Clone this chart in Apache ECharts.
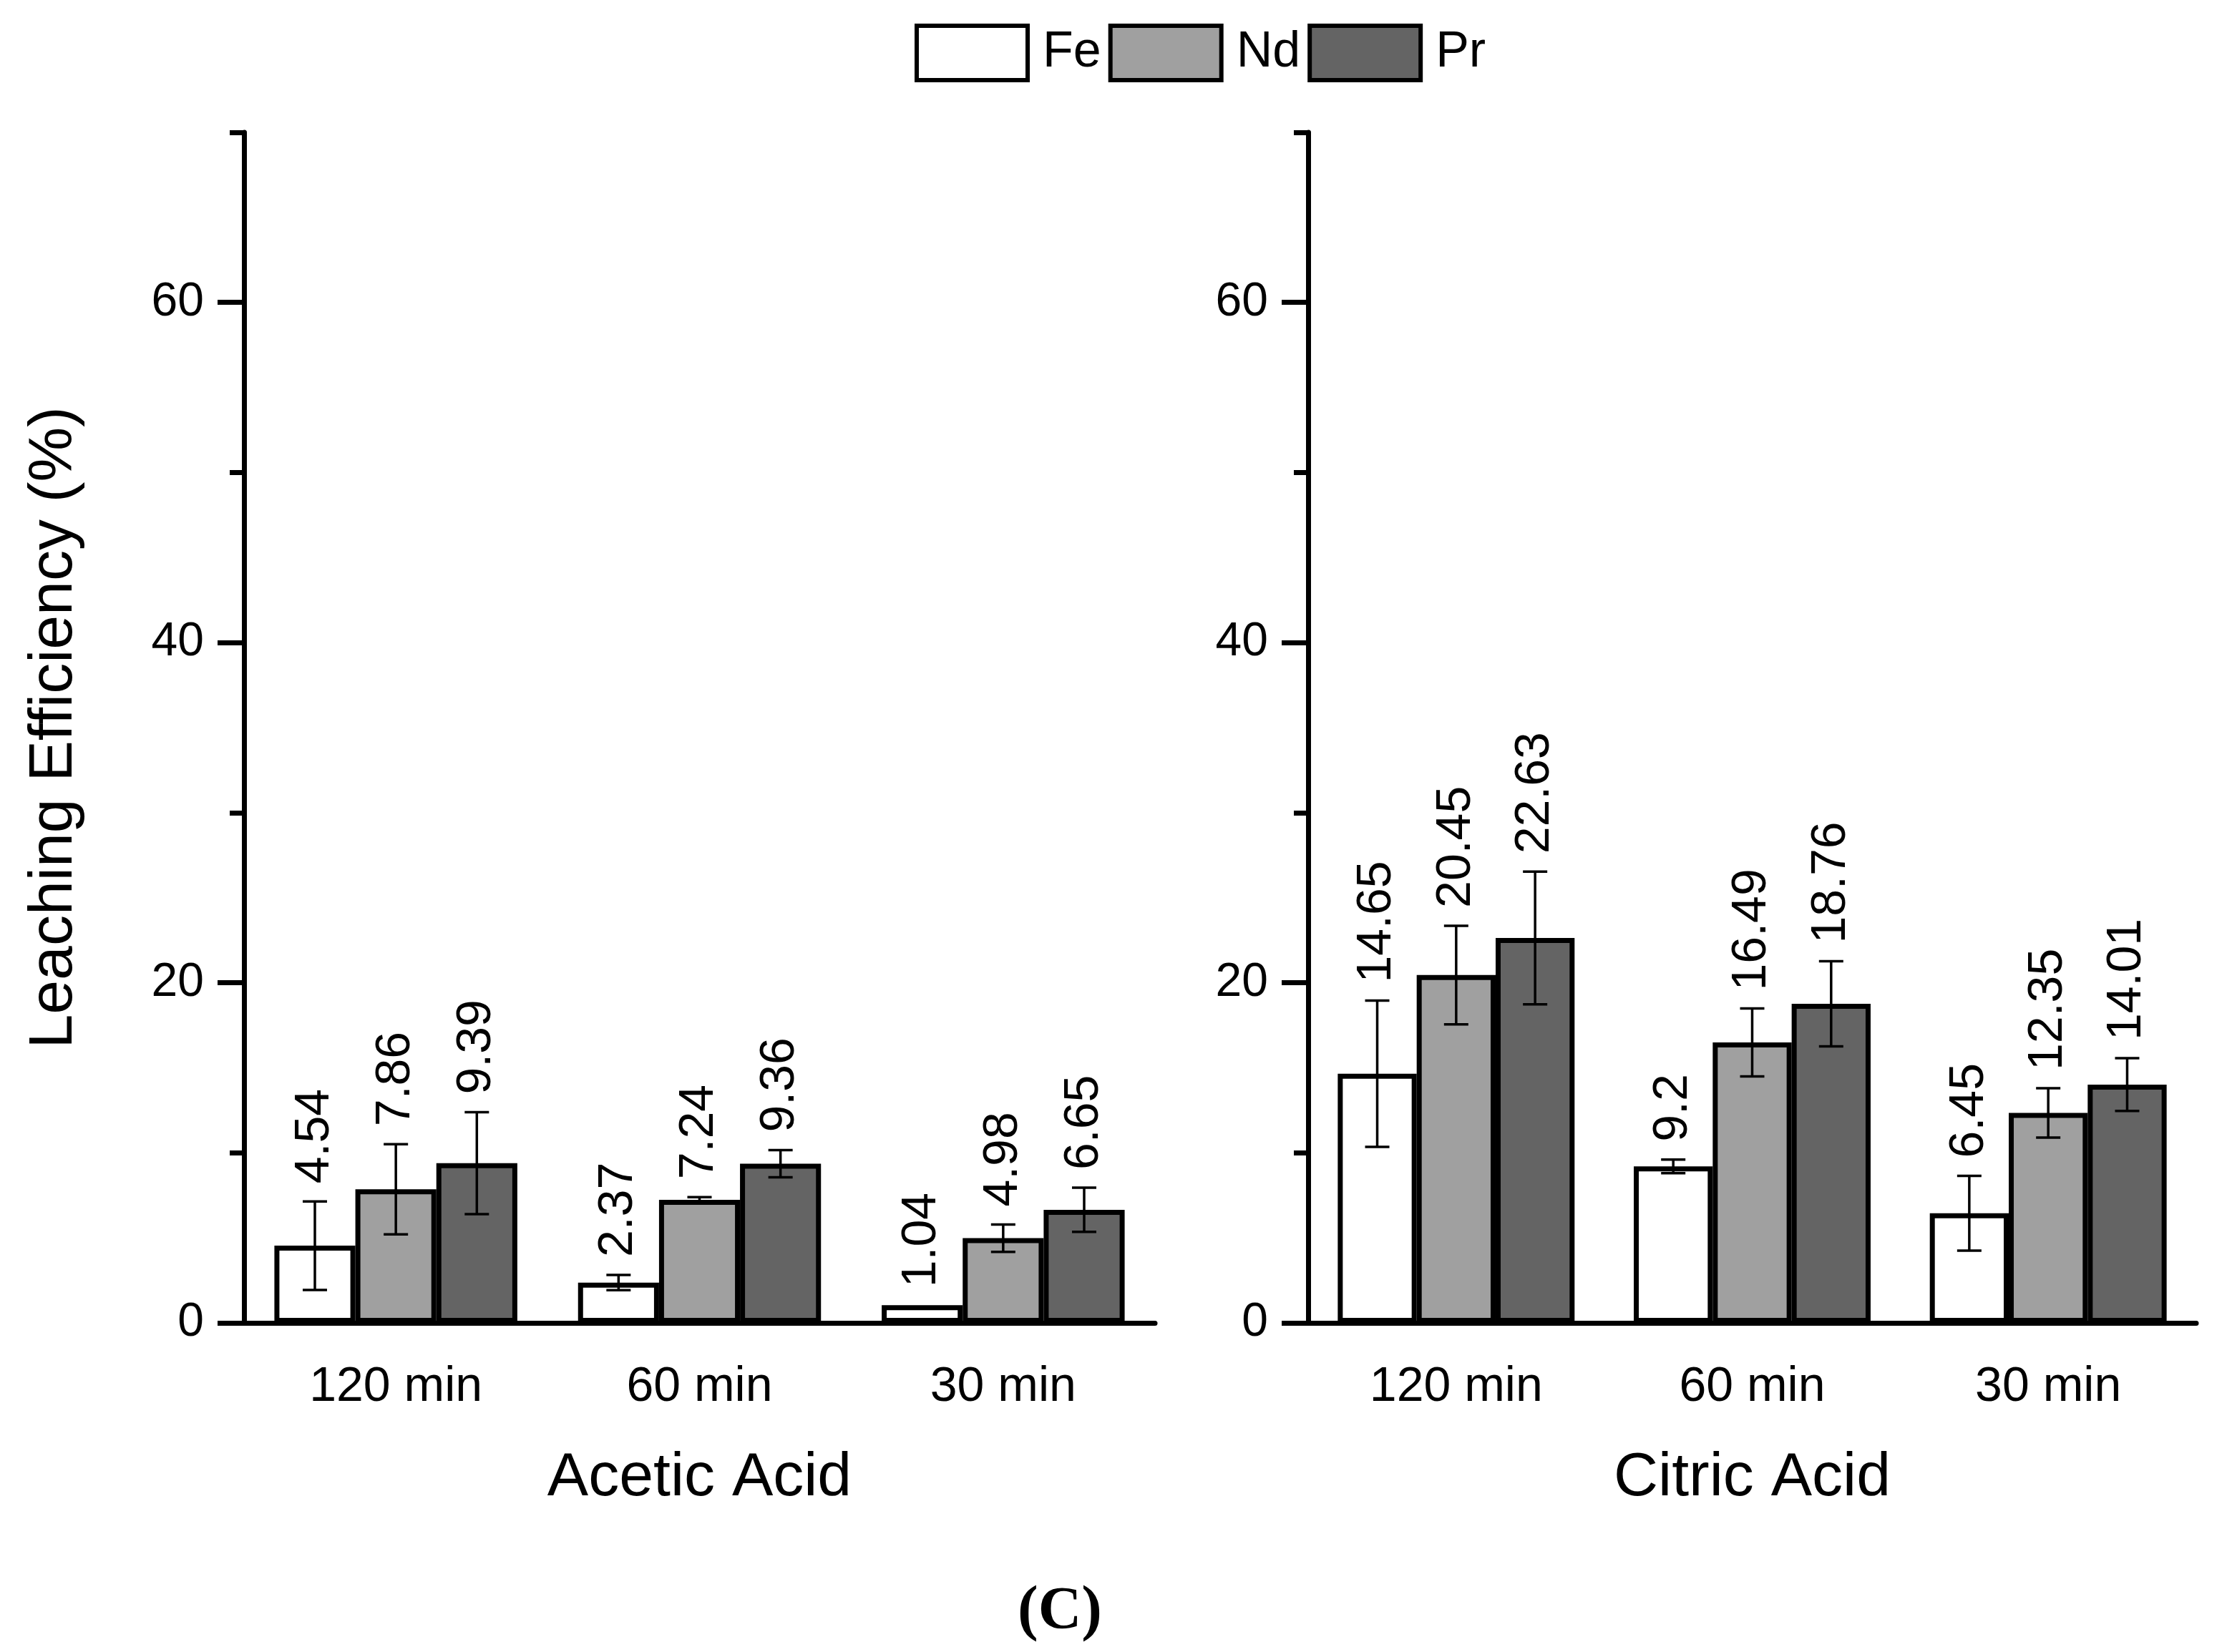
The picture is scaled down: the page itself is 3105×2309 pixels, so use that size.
<!DOCTYPE html>
<html>
<head>
<meta charset="utf-8">
<script src="https://cdn.jsdelivr.net/npm/echarts@6/dist/echarts.min.js"></script>
<style>
html,body{margin:0;padding:0;background:#fff;}
#chart{width:3105px;height:2309px;}
</style>
</head>
<body>
<div id="chart"></div>
<script>
// ---- data ----
const categories = ['120 min', '60 min', '30 min'];
const elements = ['Fe', 'Nd', 'Pr'];
const panelNames = ['Acetic Acid', 'Citric Acid'];
const yTickLabels = [0, 20, 40, 60];
const yMinorTicks = [10, 30, 50, 70];

const aceticFe = [4.54, 2.37, 1.04];
const aceticNd = [7.86, 7.24, 4.98];
const aceticPr = [9.39, 9.36, 6.65];
const aceticFeErr = [2.6, 0.45, 0];
const aceticNdErr = [2.65, 0.15, 0.8];
const aceticPrErr = [3.0, 0.8, 1.3];

const citricFe = [14.65, 9.2, 6.45];
const citricNd = [20.45, 16.49, 12.35];
const citricPr = [22.63, 18.76, 14.01];
const citricFeErr = [4.3, 0.4, 2.2];
const citricNdErr = [2.9, 2.0, 1.45];
const citricPrErr = [3.9, 2.5, 1.55];

const colors = ['#ffffff', '#a0a0a0', '#646464'];
const FONT = '"Liberation Sans", Arial, Helvetica, sans-serif';

const panels = [
  {vals: [aceticFe, aceticNd, aceticPr], errs: [aceticFeErr, aceticNdErr, aceticPrErr]},
  {vals: [citricFe, citricNd, citricPr], errs: [citricFeErr, citricNdErr, citricPrErr]}
];

const grids = [
  {left: 341, top: 185, width: 1273, height: 1664},
  {left: 1828, top: 185, width: 1241, height: 1664}
];

const xAxes = [], yAxes = [], series = [];
panels.forEach((p, g) => {
  xAxes.push({
    gridIndex: g, type: 'category', data: categories, position: 'bottom', offset: 0,
    axisLine: {lineStyle: {color: '#000', width: 7}},
    axisTick: {alignWithLabel: true, length: 30, lineStyle: {color: '#000', width: 7}},
    axisLabel: {fontSize: 68, color: '#000', margin: 56, fontFamily: FONT},
    name: panelNames[g], nameLocation: 'middle', nameGap: 174,
    nameTextStyle: {fontSize: 86, color: '#000', fontFamily: FONT}
  });
  xAxes.push({
    gridIndex: g, type: 'category', data: categories, position: 'bottom', offset: 0,
    axisLine: {show: false},
    axisTick: {alignWithLabel: false, length: 16, lineStyle: {color: '#000', width: 7}},
    axisLabel: {show: false}
  });
  yAxes.push({
    gridIndex: g, type: 'value', min: 0, max: 70, interval: 10, position: 'left', offset: 0,
    splitLine: {show: false},
    axisLine: {show: true, lineStyle: {color: '#000', width: 7}},
    axisTick: {show: true, length: 37, customValues: yTickLabels, lineStyle: {color: '#000', width: 7}},
    axisLabel: {fontSize: 66, color: '#000', margin: 56, fontFamily: FONT, customValues: yTickLabels},
    name: g === 0 ? 'Leaching Efficiency (%)' : '', nameLocation: 'middle', nameGap: 222,
    nameTextStyle: {fontSize: 86, color: '#000', fontFamily: FONT}
  });
  yAxes.push({
    gridIndex: g, type: 'value', min: 0, max: 70, interval: 10, position: 'left', offset: 0,
    splitLine: {show: false},
    axisLine: {show: false},
    axisTick: {show: true, length: 20, customValues: yMinorTicks, lineStyle: {color: '#000', width: 7}},
    axisLabel: {show: false}
  });
  elements.forEach((el, k) => {
    series.push({
      type: 'bar', name: el, xAxisIndex: g * 2, yAxisIndex: g * 2,
      data: p.vals[k], barGap: '0%', barCategoryGap: '20%',
      itemStyle: {color: colors[k], borderColor: '#000', borderWidth: 7},
      z: 2
    });
  });
  elements.forEach((el, k) => {
    const vals = p.vals[k], errs = p.errs[k];
    series.push({
      type: 'custom', name: el + ' error', xAxisIndex: g * 2, yAxisIndex: g * 2,
      z: 5, clip: false, silent: true,
      data: vals.map((v, i) => [i, v, errs[i]]),
      encode: {x: 0, y: 1},
      renderItem: function (params, api) {
        const i = api.value(0), v = api.value(1), e = api.value(2);
        const band = api.size([1, 0])[0];
        const bw = band * 0.8 / 3;
        const c = api.coord([i, v]);
        const x = c[0] + (k - 1) * bw;
        const top = api.coord([i, v + e])[1];
        const bot = api.coord([i, v - e])[1];
        const ch = [];
        const st = {stroke: '#000', lineWidth: 3.5};
        if (e > 0) {
          ch.push({type: 'line', shape: {x1: x, y1: top, x2: x, y2: bot}, style: st});
          ch.push({type: 'line', shape: {x1: x - 17, y1: top, x2: x + 17, y2: top}, style: st});
          ch.push({type: 'line', shape: {x1: x - 17, y1: bot, x2: x + 17, y2: bot}, style: st});
        }
        ch.push({
          type: 'text', x: x, y: top - 25, rotation: Math.PI / 2,
          style: {text: String(vals[i]), fill: '#000', font: '68px ' + FONT, align: 'left', verticalAlign: 'middle'}
        });
        return {type: 'group', children: ch};
      }
    });
  });
});

const chart = echarts.init(document.getElementById('chart'));
chart.setOption({
  backgroundColor: '#fff',
  animation: false,
  textStyle: {fontFamily: FONT},
  title: {
    text: '{a|(}{b|C}{a|)}', left: 1476, top: 2206, textAlign: 'center',
    textStyle: {
      rich: {
        a: {fontFamily: '"Liberation Serif", "Times New Roman", serif', fontSize: 86, color: '#000'},
        b: {fontFamily: '"Liberation Serif", "Times New Roman", serif', fontSize: 84, fontWeight: 'bold', color: '#000'}
      }
    }
  },
  legend: {
    data: elements, left: 1273, top: 28, icon: 'rect',
    itemWidth: 155, itemHeight: 76, itemGap: 10,
    itemStyle: {borderColor: '#000', borderWidth: 6},
    textStyle: {fontSize: 70, color: '#000', fontFamily: FONT, padding: [0, 0, 0, 16]}
  },
  grid: grids,
  xAxis: xAxes,
  yAxis: yAxes,
  series: series
});
</script>
</body>
</html>
